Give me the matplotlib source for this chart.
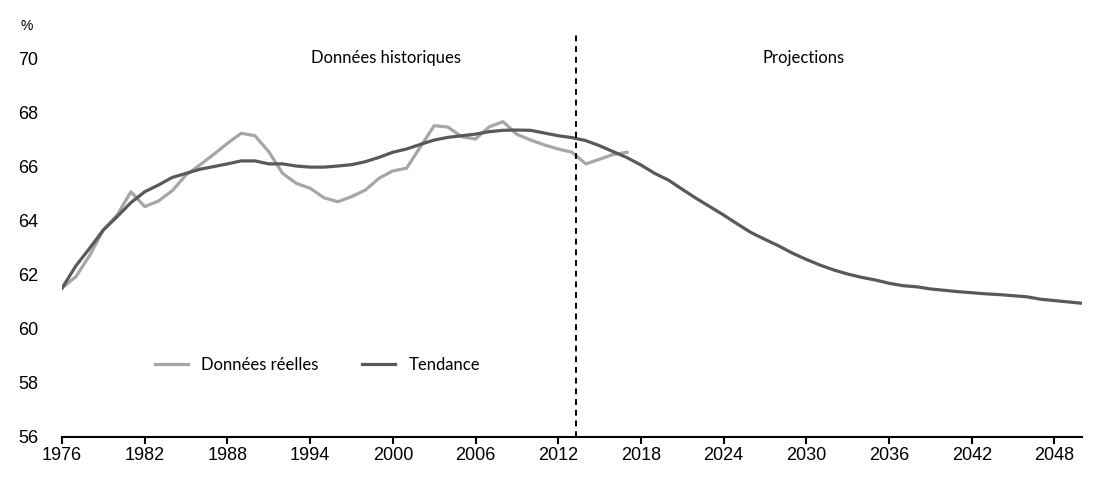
import matplotlib
matplotlib.use("Agg")
import matplotlib.pyplot as plt

years_actual = list(range(1976, 2018))
actual = [61.50, 61.92, 62.70, 63.65, 64.20, 65.06, 64.51, 64.72, 65.10, 65.68,
          66.05, 66.44, 66.85, 67.22, 67.13, 66.54, 65.74, 65.37, 65.19, 64.84,
          64.69, 64.88, 65.12, 65.56, 65.83, 65.93, 66.72, 67.50, 67.45, 67.09,
          67.01, 67.46, 67.65, 67.18, 66.97, 66.79, 66.64, 66.52, 66.09, 66.26,
          66.44, 66.52]

years_trend = list(range(1976, 2051))
trend = [61.50, 62.32, 62.97, 63.65, 64.14, 64.66, 65.06, 65.31, 65.59, 65.74,
         65.89, 65.99, 66.09, 66.20, 66.20, 66.09, 66.09, 66.01, 65.97, 65.97,
         66.01, 66.06, 66.17, 66.33, 66.52, 66.64, 66.81, 66.97, 67.07, 67.13,
         67.19, 67.28, 67.33, 67.34, 67.33, 67.23, 67.13, 67.06, 66.95, 66.76,
         66.54, 66.32, 66.05, 65.74, 65.49, 65.15, 64.82, 64.51, 64.20, 63.87,
         63.55, 63.30, 63.06, 62.79, 62.56, 62.35, 62.17, 62.02, 61.90, 61.80,
         61.68, 61.59, 61.55, 61.47, 61.42, 61.37, 61.33, 61.29, 61.26, 61.22,
         61.18, 61.09, 61.04, 60.99, 60.94]

xticks = list(range(1976, 2050, 6))
yticks = [56, 58, 60, 62, 64, 66, 68, 70]
split_year = 2013.3
labels = ["Données réelles", "Tendance"]
section_labels = ["Données historiques", "Projections"]

fig = plt.figure(figsize=(11, 4.98), dpi=100)
ax = fig.add_axes([0.0564, 0.1225, 0.9272, 0.8153])

ax.plot(years_actual, actual, color="#A6A6A6", lw=2.3, label=labels[0], solid_joinstyle="round")
ax.plot(years_trend, trend, color="#595959", lw=2.3, label=labels[1], solid_joinstyle="round")
ax.axvline(split_year, color="black", lw=1.4, ls=(0, (3, 2.5)))

ax.set_xlim(1976, 2050)
ax.set_ylim(56, 71)
ax.set_xticks(xticks)
ax.set_yticks(yticks)
for s in ["top", "right", "left"]:
    ax.spines[s].set_visible(False)
ax.spines["bottom"].set_linewidth(1.5)
ax.tick_params(axis="x", direction="out", length=5, width=1.5, pad=2,
               labelsize=13)
ax.tick_params(axis="y", length=0, pad=17, labelsize=13)
for lab in ax.get_xticklabels() + ax.get_yticklabels():
    lab.set_fontfamily("Liberation Sans")

fig.text(27 / 1100, 1 - 26 / 498, "%", ha="center", va="center",
         fontsize=10, fontfamily="Liberation Sans")
ax.text(1999.5, 70.0, section_labels[0], ha="center", va="center",
        fontsize=12, fontfamily="Lato")
ax.text(2029.8, 70.0, section_labels[1], ha="center", va="center",
        fontsize=12, fontfamily="Lato")

leg = ax.legend(loc="center left", bbox_to_anchor=(0.076, 0.177), ncol=2,
                frameon=False, handlelength=2.0, columnspacing=2.6,
                prop={"family": "Lato", "size": 12})

fig.savefig("out.png", dpi=100)
